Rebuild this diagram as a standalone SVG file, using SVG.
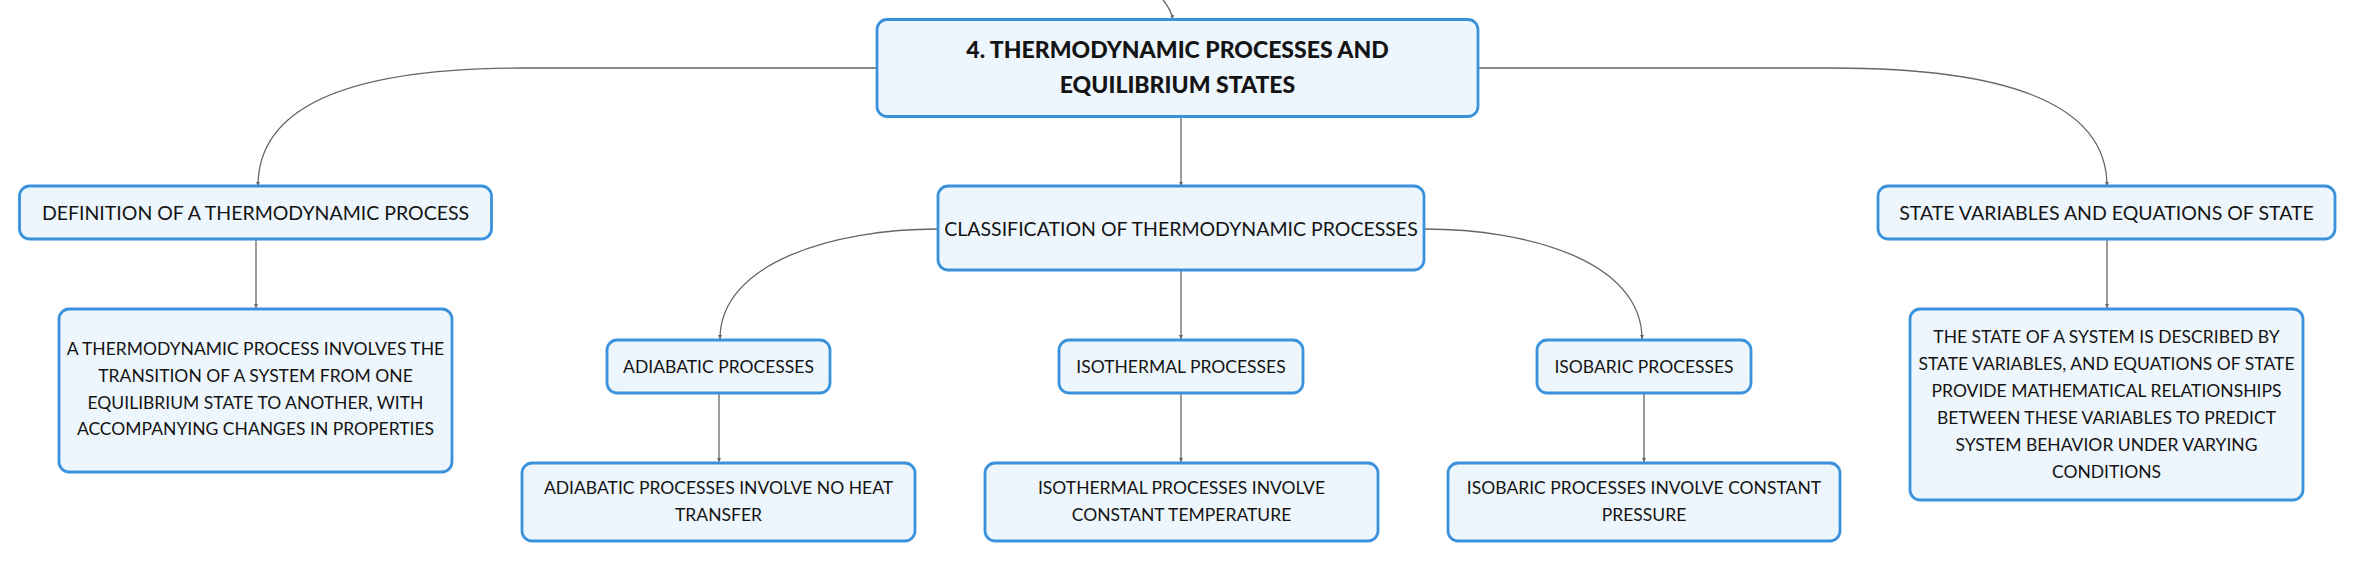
<svg xmlns="http://www.w3.org/2000/svg" width="2356" height="561" viewBox="0 0 2356 561">
<style>
.box{fill:#eef6fd;stroke:#3a92dc;stroke-width:2.8}
.t{font-family:Lato,"Noto Sans",sans-serif;font-size:17.5px;fill:#141414;text-anchor:middle}
.l1{font-size:19.5px}
.b{font-weight:900;font-size:23px}
.c{fill:none;stroke:#666;stroke-width:1.3}
</style>
<defs>
<marker id="ah" viewBox="0 0 6 6" refX="6" refY="3" markerWidth="4" markerHeight="4" markerUnits="userSpaceOnUse" orient="auto"><path d="M0,0L6,3L0,6z" fill="#666"/></marker>
</defs>
<rect width="2356" height="561" fill="#fff"/>
<g id="connectors">
<path class="c" d="M1163,0 Q1170,8 1173,19" marker-end="url(#ah)"/>
<path class="c" d="M877,68 L522,68 C335,68 258,112 258,186" marker-end="url(#ah)"/>
<path class="c" d="M1478,68 L1833,68 C2025,68 2107,112 2107,186" marker-end="url(#ah)"/>
<path class="c" d="M1181,117 L1181,186" marker-end="url(#ah)"/>
<path class="c" d="M256,239 L256,308" marker-end="url(#ah)"/>
<path class="c" d="M2107,239 L2107,308" marker-end="url(#ah)"/>
<path class="c" d="M938,229 C835,229 720,262 720,339" marker-end="url(#ah)"/>
<path class="c" d="M1181,270 L1181,339" marker-end="url(#ah)"/>
<path class="c" d="M1424,229 C1530,229 1642,262 1642,339" marker-end="url(#ah)"/>
<path class="c" d="M719,393 L719,462" marker-end="url(#ah)"/>
<path class="c" d="M1181,393 L1181,462" marker-end="url(#ah)"/>
<path class="c" d="M1644,393 L1644,462" marker-end="url(#ah)"/>
</g>
<g id="root">
<rect class="box" x="877" y="19.5" width="601" height="97" rx="10"/>
<text class="t b" x="1177.5" y="58">4. THERMODYNAMIC PROCESSES AND</text>
<text class="t b" x="1177.5" y="93">EQUILIBRIUM STATES</text>
</g>
<g id="definition">
<rect class="box" x="19.5" y="186" width="472" height="53" rx="10"/>
<text class="t l1" x="255.5" y="220">DEFINITION OF A THERMODYNAMIC PROCESS</text>
</g>
<g id="definition-detail">
<rect class="box" x="59" y="309" width="393" height="163" rx="10"/>
<text class="t" x="255.5" y="355">A THERMODYNAMIC PROCESS INVOLVES THE</text>
<text class="t" x="255.5" y="382">TRANSITION OF A SYSTEM FROM ONE</text>
<text class="t" x="255.5" y="408.5">EQUILIBRIUM STATE TO ANOTHER, WITH</text>
<text class="t" x="255.5" y="435">ACCOMPANYING CHANGES IN PROPERTIES</text>
</g>
<g id="classification">
<rect class="box" x="938" y="186" width="486" height="84" rx="10"/>
<text class="t l1" x="1181" y="236">CLASSIFICATION OF THERMODYNAMIC PROCESSES</text>
</g>
<g id="adiabatic">
<rect class="box" x="607" y="340" width="223" height="53" rx="10"/>
<text class="t" x="718.5" y="373">ADIABATIC PROCESSES</text>
</g>
<g id="adiabatic-detail">
<rect class="box" x="522" y="463" width="393" height="78" rx="10"/>
<text class="t" x="718.5" y="494">ADIABATIC PROCESSES INVOLVE NO HEAT</text>
<text class="t" x="718.5" y="521">TRANSFER</text>
</g>
<g id="isothermal">
<rect class="box" x="1059" y="340" width="244" height="53" rx="10"/>
<text class="t" x="1181" y="373">ISOTHERMAL PROCESSES</text>
</g>
<g id="isothermal-detail">
<rect class="box" x="985" y="463" width="393" height="78" rx="10"/>
<text class="t" x="1181.5" y="494">ISOTHERMAL PROCESSES INVOLVE</text>
<text class="t" x="1181.5" y="521">CONSTANT TEMPERATURE</text>
</g>
<g id="isobaric">
<rect class="box" x="1537" y="340" width="214" height="53" rx="10"/>
<text class="t" x="1644" y="373">ISOBARIC PROCESSES</text>
</g>
<g id="isobaric-detail">
<rect class="box" x="1448" y="463" width="392" height="78" rx="10"/>
<text class="t" x="1644" y="494">ISOBARIC PROCESSES INVOLVE CONSTANT</text>
<text class="t" x="1644" y="521">PRESSURE</text>
</g>
<g id="state-variables">
<rect class="box" x="1878" y="186" width="457" height="53" rx="10"/>
<text class="t l1" x="2106.5" y="220">STATE VARIABLES AND EQUATIONS OF STATE</text>
</g>
<g id="state-detail">
<rect class="box" x="1910" y="309" width="393" height="191" rx="10"/>
<text class="t" x="2106.5" y="343">THE STATE OF A SYSTEM IS DESCRIBED BY</text>
<text class="t" x="2106.5" y="370">STATE VARIABLES, AND EQUATIONS OF STATE</text>
<text class="t" x="2106.5" y="397">PROVIDE MATHEMATICAL RELATIONSHIPS</text>
<text class="t" x="2106.5" y="424">BETWEEN THESE VARIABLES TO PREDICT</text>
<text class="t" x="2106.5" y="451">SYSTEM BEHAVIOR UNDER VARYING</text>
<text class="t" x="2106.5" y="478">CONDITIONS</text>
</g>
</svg>
